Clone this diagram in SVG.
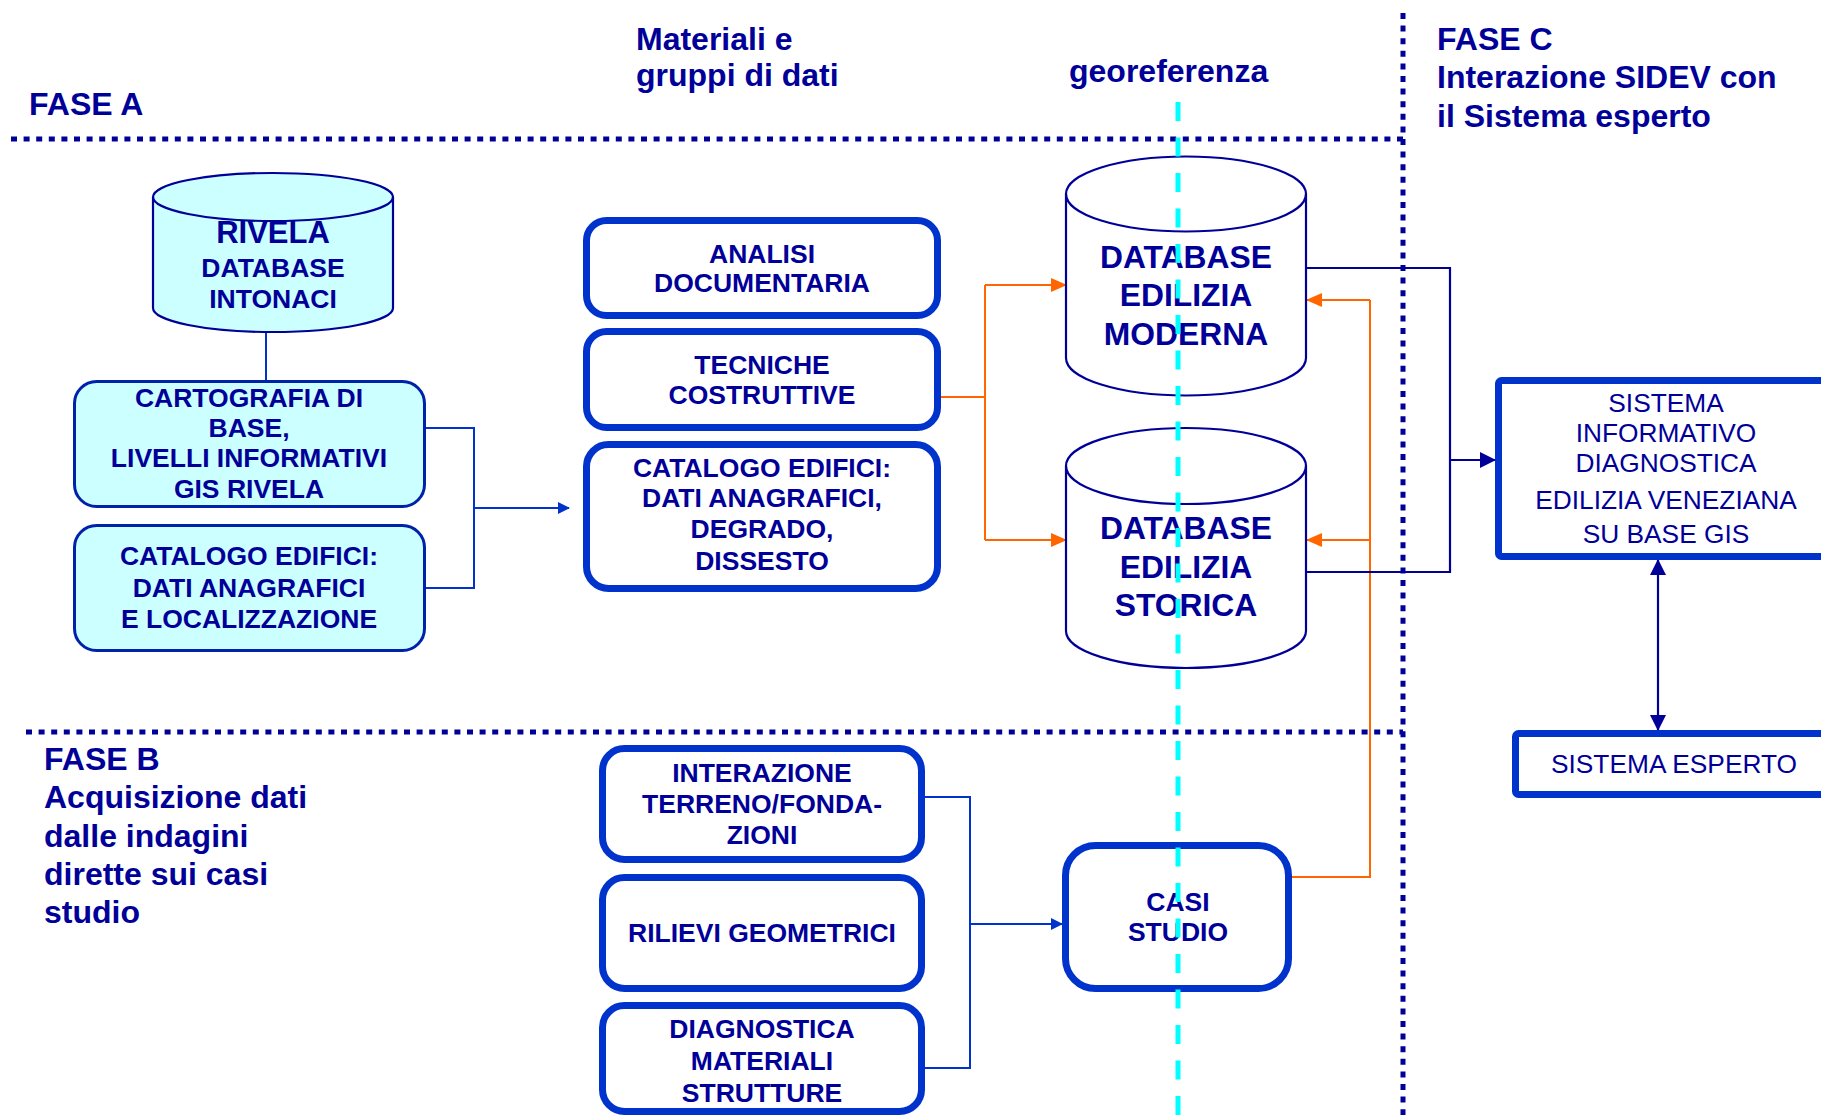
<svg xmlns="http://www.w3.org/2000/svg" width="1821" height="1115" viewBox="0 0 1821 1115">
<style>
.h{font-family:"Liberation Sans",Arial,sans-serif;font-weight:bold;font-size:32px;fill:#000099}
.t{font-family:"Liberation Sans",Arial,sans-serif;font-weight:bold;font-size:26.5px;fill:#000099;text-anchor:middle}
.tr{font-family:"Liberation Sans",Arial,sans-serif;font-size:26.3px;fill:#000099;text-anchor:middle}
.db{font-family:"Liberation Sans",Arial,sans-serif;font-weight:bold;font-size:31.8px;fill:#000099;text-anchor:middle}
.thick{fill:#fff;stroke:#0033CC;stroke-width:7}
.cyanbox{fill:#CCFFFF;stroke:#0022AA;stroke-width:3}
.cyl{stroke:#000099;stroke-width:2.2}
.dot{stroke:#000099;stroke-width:5;stroke-dasharray:6 6.6;fill:none}
.cb{stroke:#0033CC;stroke-width:2;fill:none}
.cn{stroke:#000099;stroke-width:2.2;fill:none}
.co{stroke:#FF6600;stroke-width:2;fill:none}
</style>
<defs>
<marker id="ao" markerUnits="userSpaceOnUse" markerWidth="16" markerHeight="14" refX="15" refY="7" orient="auto"><path d="M0,0 L16,7 L0,14 Z" fill="#FF6600"/></marker>
<marker id="ab" markerUnits="userSpaceOnUse" markerWidth="12" markerHeight="12" refX="11" refY="6" orient="auto"><path d="M0,0 L12,6 L0,12 Z" fill="#0033CC"/></marker>
<marker id="an" markerUnits="userSpaceOnUse" markerWidth="16" markerHeight="16" refX="15" refY="8" orient="auto"><path d="M0,0 L16,8 L0,16 Z" fill="#000099"/></marker>
<marker id="an2" markerUnits="userSpaceOnUse" markerWidth="16" markerHeight="16" refX="15" refY="8" orient="auto-start-reverse"><path d="M0,0 L16,8 L0,16 Z" fill="#000099"/></marker>
</defs>
<rect width="1821" height="1115" fill="#fff"/>

<g id="separators">
<line class="dot" x1="11" y1="139" x2="1403" y2="139"/>
<line class="dot" x1="26" y1="732" x2="1403" y2="732"/>
<line class="dot" x1="1403" y1="13" x2="1403" y2="1115"/>
</g>

<g id="headings">
<text class="h" x="29" y="115">FASE A</text>
<text class="h" x="636" y="50">Materiali e</text>
<text class="h" x="636" y="86">gruppi di dati</text>
<text class="h" x="1069" y="82">georeferenza</text>
<text class="h" x="1437" y="50">FASE C</text>
<text class="h" x="1437" y="88">Interazione SIDEV con</text>
<text class="h" x="1437" y="127">il Sistema esperto</text>
<text class="h" x="44" y="770">FASE B</text>
<text class="h" x="44" y="808">Acquisizione dati</text>
<text class="h" x="44" y="847">dalle indagini</text>
<text class="h" x="44" y="885">dirette sui casi</text>
<text class="h" x="44" y="923">studio</text>
</g>

<g id="connectors">
<line class="cb" x1="266" y1="332" x2="266" y2="381"/>
<path class="cb" d="M426,428 H474 V588 H426"/>
<line class="cb" x1="474" y1="508" x2="569" y2="508" marker-end="url(#ab)"/>
<path class="co" d="M941,397 H985"/>
<path class="co" d="M985,285 V540"/>
<line class="co" x1="985" y1="285" x2="1066" y2="285" marker-end="url(#ao)"/>
<line class="co" x1="985" y1="540" x2="1066" y2="540" marker-end="url(#ao)"/>
<path class="co" d="M1292,877 H1370 V300"/>
<line class="co" x1="1370" y1="300" x2="1307" y2="300" marker-end="url(#ao)"/>
<line class="co" x1="1370" y1="540" x2="1307" y2="540" marker-end="url(#ao)"/>
<path class="cn" d="M1306,268 H1450 V572 H1306"/>
<line class="cn" x1="1450" y1="460" x2="1495" y2="460" marker-end="url(#an)"/>
<line class="cn" x1="1658" y1="560" x2="1658" y2="730" marker-start="url(#an2)" marker-end="url(#an2)"/>
<path class="cb" d="M925,797 H970 V1068 H925"/>
<line class="cb" x1="970" y1="924" x2="1062" y2="924" marker-end="url(#ab)"/>
</g>

<g id="rivela">
<path class="cyl" fill="#CCFFFF" d="M153,197 A120,24 0 0 1 393,197 V308 A120,24 0 0 1 153,308 Z"/>
<path class="cyl" fill="none" d="M153,197 A120,24 0 0 0 393,197"/>
<text class="t" x="273" y="243" style="font-size:31px">RIVELA</text>
<text class="t" x="273" y="277">DATABASE</text>
<text class="t" x="273" y="308">INTONACI</text>
</g>

<g id="cartografia">
<rect class="cyanbox" x="74.5" y="381.5" width="350" height="125" rx="22"/>
<text class="t" x="249" y="407">CARTOGRAFIA DI</text>
<text class="t" x="249" y="437">BASE,</text>
<text class="t" x="249" y="467">LIVELLI INFORMATIVI</text>
<text class="t" x="249" y="498">GIS RIVELA</text>
</g>

<g id="catalogo-a">
<rect class="cyanbox" x="74.5" y="525.5" width="350" height="125" rx="22"/>
<text class="t" x="249" y="565">CATALOGO EDIFICI:</text>
<text class="t" x="249" y="597">DATI ANAGRAFICI</text>
<text class="t" x="249" y="628">E LOCALIZZAZIONE</text>
</g>

<g id="analisi">
<rect class="thick" x="586.5" y="220.5" width="351" height="95" rx="20"/>
<text class="t" x="762" y="263">ANALISI</text>
<text class="t" x="762" y="292">DOCUMENTARIA</text>
</g>

<g id="tecniche">
<rect class="thick" x="586.5" y="331.5" width="351" height="96" rx="20"/>
<text class="t" x="762" y="374">TECNICHE</text>
<text class="t" x="762" y="404">COSTRUTTIVE</text>
</g>

<g id="catalogo-b">
<rect class="thick" x="586.5" y="444.5" width="351" height="144" rx="22"/>
<text class="t" x="762" y="477">CATALOGO EDIFICI:</text>
<text class="t" x="762" y="507">DATI ANAGRAFICI,</text>
<text class="t" x="762" y="538">DEGRADO,</text>
<text class="t" x="762" y="570">DISSESTO</text>
</g>

<g id="db-moderna">
<path class="cyl" fill="#fff" d="M1066,194 A120,37.5 0 0 1 1306,194 V358 A120,37.5 0 0 1 1066,358 Z"/>
<path class="cyl" fill="none" d="M1066,194 A120,37.5 0 0 0 1306,194"/>
<text class="db" x="1186" y="268">DATABASE</text>
<text class="db" x="1186" y="306">EDILIZIA</text>
<text class="db" x="1186" y="345">MODERNA</text>
</g>

<g id="db-storica">
<path class="cyl" fill="#fff" d="M1066,466 A120,38 0 0 1 1306,466 V631 A120,37 0 0 1 1066,631 Z"/>
<path class="cyl" fill="none" d="M1066,466 A120,38 0 0 0 1306,466"/>
<text class="db" x="1186" y="539">DATABASE</text>
<text class="db" x="1186" y="578">EDILIZIA</text>
<text class="db" x="1186" y="616">STORICA</text>
</g>

<g id="sistema-informativo">
<rect class="thick" x="1498.5" y="380.5" width="400" height="176" rx="3"/>
<text class="tr" x="1666" y="412">SISTEMA</text>
<text class="tr" x="1666" y="442">INFORMATIVO</text>
<text class="tr" x="1666" y="472">DIAGNOSTICA</text>
<text class="tr" x="1666" y="509">EDILIZIA VENEZIANA</text>
<text class="tr" x="1666" y="543">SU BASE GIS</text>
</g>

<g id="sistema-esperto">
<rect class="thick" x="1515.5" y="733.5" width="400" height="61" rx="3"/>
<text class="tr" x="1674" y="773">SISTEMA ESPERTO</text>
</g>

<g id="interazione">
<rect class="thick" x="602.5" y="748.5" width="319" height="111" rx="22"/>
<text class="t" x="762" y="782">INTERAZIONE</text>
<text class="t" x="762" y="813">TERRENO/FONDA-</text>
<text class="t" x="762" y="844">ZIONI</text>
</g>

<g id="rilievi">
<rect class="thick" x="602.5" y="877.5" width="319" height="111" rx="22"/>
<text class="t" x="762" y="942">RILIEVI GEOMETRICI</text>
</g>

<g id="diagnostica">
<rect class="thick" x="602.5" y="1005.5" width="319" height="106" rx="22"/>
<text class="t" x="762" y="1038">DIAGNOSTICA</text>
<text class="t" x="762" y="1070">MATERIALI</text>
<text class="t" x="762" y="1102">STRUTTURE</text>
</g>

<g id="casi-studio">
<rect class="thick" x="1065.5" y="845.5" width="223" height="143" rx="30"/>
<text class="t" x="1178" y="911">CASI</text>
<text class="t" x="1178" y="941">STUDIO</text>
</g>

<g id="georeferenza-line">
<line x1="1178" y1="102" x2="1178" y2="1115" stroke="#00FFFF" stroke-width="5" stroke-dasharray="19 16.5"/>
</g>
</svg>
